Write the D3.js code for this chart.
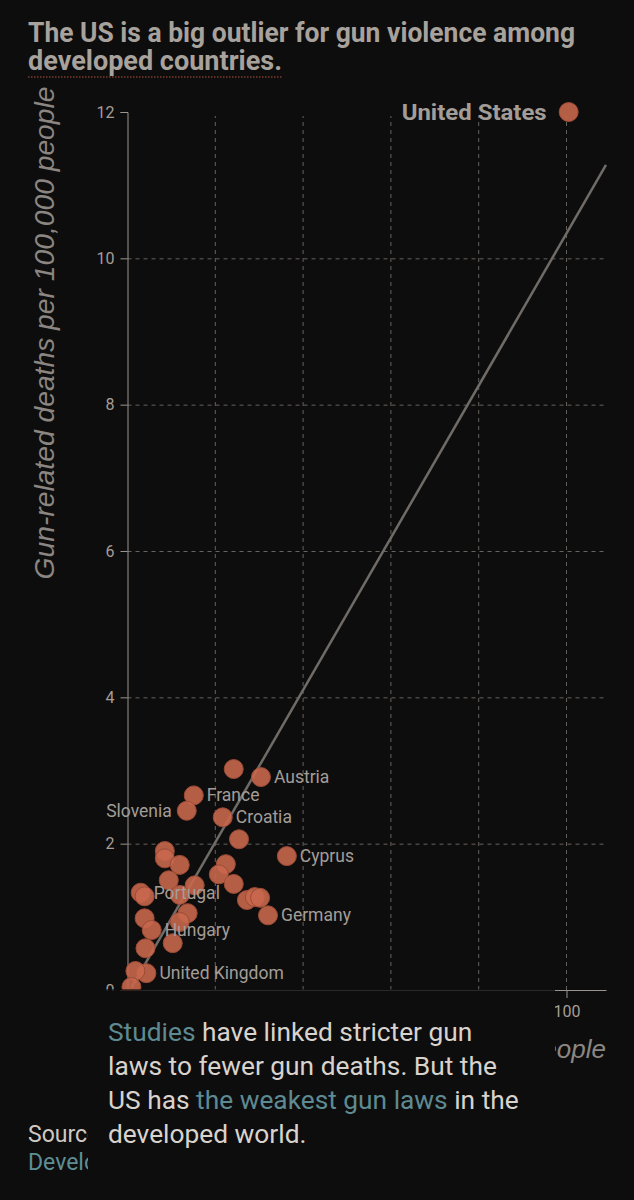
<!DOCTYPE html>
<html>
<head>
<meta charset="utf-8">
<script src="https://cdn.jsdelivr.net/npm/d3@7"></script>
<style>
  html, body { margin: 0; padding: 0; background: #0e0d0d; }
  svg { display: block; }
</style>
</head>
<body>
<svg id="chart" width="634" height="1200"></svg>
<script>
// guns per 100 people vs gun deaths per 100k
const countries = [
  "", "Austria", "France", "Slovenia", "Croatia", "", "Cyprus", "", "", "",
  "", "", "", "", "", "Portugal", "", "", "", "",
  "", "Germany", "", "", "", "Hungary", "", "", "United Kingdom", "",
  "", "United States"
];
const gunsPer100 = [
  24.2, 30.4, 15.1, 13.5, 21.7, 25.4, 36.3, 8.5, 8.5, 11.9,
  22.4, 20.8, 9.4, 15.3, 24.2, 3.0, 3.9, 11.9, 27.2, 29.0,
  30.2, 32.0, 13.7, 3.9, 11.9, 5.5, 10.3, 4.1, 4.3, 1.8,
  0.9, 100.5
];
const deathsPer100k = [
  3.02, 2.91, 2.66, 2.45, 2.36, 2.06, 1.83, 1.90, 1.80, 1.71,
  1.72, 1.58, 1.50, 1.43, 1.45, 1.33, 1.28, 1.30, 1.23, 1.27,
  1.26, 1.02, 1.05, 0.98, 0.93, 0.82, 0.64, 0.57, 0.23, 0.26,
  0.04, 12.0
];
const yTicks = [0, 2, 4, 6, 8, 10, 12];
const xTicks = [0, 20, 40, 60, 80, 100];
const xTickLabels = ["", "", "", "", "", "100"]; // the rest sit under the text card
const trend = { slope: 0.104, intercept: -0.06 };

const data = countries.map((c, i) => ({ name: c, x: gunsPer100[i], y: deathsPer100k[i] }));

const svg = d3.select("#chart");
const W = 634, H = 1200;
svg.append("rect").attr("width", W).attr("height", H).attr("fill", "#0e0d0d");

const x = d3.scaleLinear().domain([0, 109]).range([127.5, 606]);
const y = d3.scaleLinear().domain([0, 12]).range([990, 112]);

const gridColor = "#66625e";
const axisColor = "#9a958f";
const labelFont = "Roboto, 'Liberation Sans', sans-serif";
const boldFont = "Roboto, 'Liberation Sans', sans-serif";

// title, squeezed to look like the condensed face of the original
const title = svg.append("g").attr("fill", "#a8a29d")
  .attr("font-family", boldFont)
  .attr("font-weight", 700)
  .attr("font-size", "27px");
title.append("text").attr("x", 28).attr("y", 42)
  .attr("textLength", 547).attr("lengthAdjust", "spacingAndGlyphs")
  .text("The US is a big outlier for gun violence among");
title.append("text").attr("x", 28).attr("y", 70)
  .attr("textLength", 254).attr("lengthAdjust", "spacingAndGlyphs")
  .text("developed countries.");
svg.append("line")
  .attr("x1", 28).attr("x2", 283)
  .attr("y1", 77).attr("y2", 77)
  .attr("stroke", "#b4543c").attr("stroke-width", 1.2)
  .attr("stroke-dasharray", "1.5,1.5");

// gridlines
svg.append("g").selectAll("line").data(yTicks.filter(d => d > 0 && d < 12)).join("line")
  .attr("x1", x(0)).attr("x2", x.range()[1])
  .attr("y1", d => y(d) + 0.5).attr("y2", d => y(d) + 0.5)
  .attr("stroke", gridColor).attr("stroke-dasharray", "4,4");
svg.append("g").selectAll("line").data(xTicks.filter(d => d > 0)).join("line")
  .attr("x1", d => x(d)).attr("x2", d => x(d))
  .attr("y1", y(0)).attr("y2", y(12) + 4)
  .attr("stroke", gridColor).attr("stroke-dasharray", "4,4");

// axes
const yAxis = svg.append("g").attr("transform", `translate(${x(0)},0)`)
  .call(d3.axisLeft(y).tickValues(yTicks).tickSize(7).tickPadding(6));
const xAxis = svg.append("g").attr("transform", `translate(0,${y(0)})`)
  .call(d3.axisBottom(x).tickValues(xTicks).tickSizeInner(8).tickSizeOuter(0).tickPadding(8)
    .tickFormat((d, i) => xTickLabels[i]));
[yAxis, xAxis].forEach(g => {
  g.selectAll("path, line").attr("stroke", axisColor);
  g.selectAll("text").attr("fill", "#a49e98").attr("font-size", "16px").attr("font-family", labelFont);
});

// axis titles
svg.append("text")
  .attr("transform", "translate(54,333) rotate(-90)")
  .attr("text-anchor", "middle")
  .attr("font-family", "'Liberation Sans', Arial, sans-serif")
  .attr("font-style", "italic")
  .attr("font-size", "27px")
  .attr("textLength", 493).attr("lengthAdjust", "spacingAndGlyphs")
  .attr("fill", "#8b8682")
  .text("Gun-related deaths per 100,000 people");
svg.append("text")
  .attr("x", 606).attr("y", 1058)
  .attr("text-anchor", "end")
  .attr("font-family", "'Liberation Sans', Arial, sans-serif")
  .attr("font-style", "italic")
  .attr("font-size", "26px")
  .attr("fill", "#8b8682")
  .text("Guns per 100 people");

// trend line
const x0 = d3.min(gunsPer100), x1 = x.domain()[1];
svg.append("line")
  .attr("x1", x(x0)).attr("y1", y(trend.intercept + trend.slope * x0))
  .attr("x2", x(x1)).attr("y2", y(trend.intercept + trend.slope * x1))
  .attr("stroke", "#6f6b67").attr("stroke-width", 2.5);

// points
svg.append("g").selectAll("circle").data(data).join("circle")
  .attr("cx", d => x(d.x)).attr("cy", d => y(d.y))
  .attr("r", 9.5)
  .attr("fill", "#c8674c")
  .attr("fill-opacity", 0.9)
  .attr("stroke", "#9c4b36")
  .attr("stroke-width", 1);

// labels
const leftLabels = ["Slovenia", "United States"];
const labels = svg.append("g").selectAll("text").data(data.filter(d => d.name)).join("text")
  .attr("x", d => d.name === "United States" ? x(d.x) - 22
    : leftLabels.includes(d.name) ? x(d.x) - 15 : x(d.x) + 13)
  .attr("y", d => y(d.y) + (d.name === "United States" ? 8 : 6))
  .attr("text-anchor", d => leftLabels.includes(d.name) ? "end" : "start")
  .attr("font-family", d => d.name === "United States" ? boldFont : labelFont)
  .attr("font-weight", d => d.name === "United States" ? 700 : 400)
  .attr("font-size", d => d.name === "United States" ? "22px" : "17.5px")
  .attr("fill", "#a39d98")
  .text(d => d.name);
labels.filter(d => d.name === "United States")
  .attr("textLength", 145).attr("lengthAdjust", "spacingAndGlyphs");

// source (mostly hidden under the text card)
svg.append("text").attr("x", 28).attr("y", 1142)
  .attr("font-family", labelFont).attr("font-size", "23px").attr("fill", "#cfc9c3")
  .text("Source: GunPolicy.org, Small Arms Survey");
svg.append("text").attr("x", 28).attr("y", 1170)
  .attr("font-family", labelFont).attr("font-size", "23px").attr("fill", "#5e8e95")
  .text("Developed countries per the IMF");

// text card overlay
const defs = svg.append("defs");
const grad = defs.append("linearGradient").attr("id", "cardfade")
  .attr("x1", 0).attr("x2", 0).attr("y1", 0).attr("y2", 1);
grad.append("stop").attr("offset", "0").attr("stop-color", "#0e0d0d").attr("stop-opacity", 0.5);
grad.append("stop").attr("offset", "0.012").attr("stop-color", "#0e0d0d").attr("stop-opacity", 1);
grad.append("stop").attr("offset", "1").attr("stop-color", "#0e0d0d").attr("stop-opacity", 1);
svg.append("rect").attr("x", 88).attr("y", 989).attr("width", 467).attr("height", H - 989)
  .attr("fill", "url(#cardfade)");

const teal = "#5e8a92", body = "#d9d3cd";
const lines = [
  [["Studies", teal], [" have linked stricter gun", body]],
  [["laws to fewer gun deaths. But the", body]],
  [["US has ", body], ["the weakest gun laws", teal], [" in the", body]],
  [["developed world.", body]]
];
const para = svg.append("g").attr("font-family", labelFont).attr("font-size", "26.3px");
lines.forEach((ln, i) => {
  const t = para.append("text").attr("x", 108).attr("y", 1041 + i * 34);
  ln.forEach(([s, c]) => t.append("tspan").attr("fill", c).text(s));
});
</script>
</body>
</html>
